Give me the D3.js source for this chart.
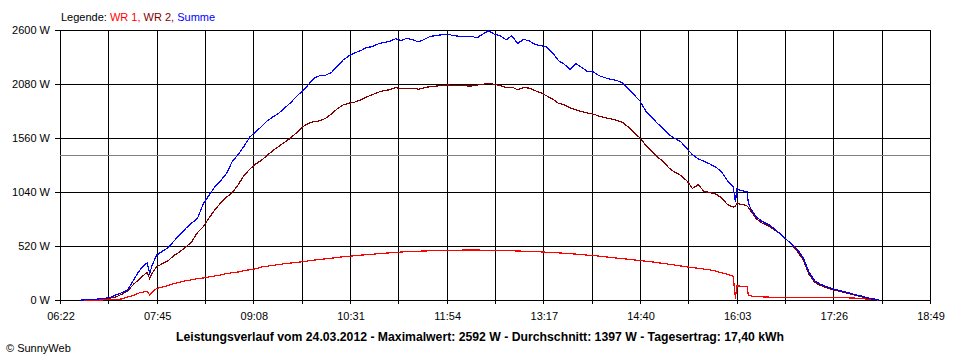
<!DOCTYPE html>
<html><head><meta charset="utf-8">
<script src="https://cdn.jsdelivr.net/npm/d3@7"></script>
<style>
html,body{margin:0;padding:0;background:#fff;}
svg{display:block;}
text{font-family:"Liberation Sans",Arial,sans-serif;}
</style></head>
<body><svg id="c" width="960" height="360"></svg>
<script>
const times = ["06:40","06:45","06:50","06:55","07:00","07:05","07:10","07:15","07:20","07:25","07:30","07:35","07:37","07:39","07:41","07:45","07:50","07:55",
"08:00","08:05","08:10","08:15","08:20","08:25","08:30","08:35","08:40","08:45","08:50","08:55",
"09:00","09:05","09:10","09:15","09:20","09:25","09:30","09:35","09:40","09:45","09:50","09:55",
"10:00","10:05","10:10","10:15","10:20","10:25","10:30","10:35","10:40","10:45","10:50","10:55",
"11:00","11:05","11:10","11:15","11:20","11:25","11:30","11:35","11:40","11:45","11:50","11:55",
"12:00","12:05","12:10","12:15","12:20","12:25","12:30","12:35","12:40","12:45","12:50","12:55",
"13:00","13:05","13:10","13:15","13:20","13:25","13:30","13:35","13:40","13:45","13:50","13:55",
"14:00","14:05","14:10","14:15","14:20","14:25","14:30","14:35","14:40","14:45","14:50","14:55",
"15:00","15:05","15:10","15:15","15:20","15:25","15:30","15:35","15:40","15:45","15:50","15:55",
"16:00","16:02","16:03","16:05","16:10","16:12","16:13","16:15","16:20","16:25","16:30","16:35","16:40","16:45","16:50","16:55",
"17:00","17:05","17:10","17:15","17:20","17:25","17:30","17:35","17:40","17:45","17:50","17:55","18:00","18:05"];

const wr1 = [0,0,0,0,1,3,5,10,28,45,68,80,82,50,75,112,125,140,
158,172,185,195,205,212,222,232,240,255,262,270,
282,292,300,318,326,334,342,350,356,362,368,376,
384,390,396,402,410,416,420,426,432,436,440,446,
450,454,458,462,465,467,470,472,474,476,477,478,
479,480,481,481,481,480,480,479,478,476,474,472,
470,468,466,463,460,457,454,450,446,442,438,432,
428,422,416,410,404,398,392,386,380,374,368,360,
352,344,336,328,320,312,305,298,290,278,262,248,
228,10,135,135,130,125,45,40,32,30,28,27,26,26,25,25,
25,25,24,24,23,23,22,21,20,18,14,8,3,0];

const wr2 = [0,2,5,10,14,18,30,55,85,150,200,250,265,205,255,320,350,380,
430,465,510,560,650,705,790,870,935,990,1035,1110,
1200,1260,1310,1345,1395,1440,1480,1520,1560,1610,1665,1700,
1718,1725,1750,1790,1840,1878,1895,1905,1926,1955,1975,2000,
2015,2025,2045,2035,2040,2038,2030,2045,2055,2060,2065,2070,
2068,2066,2062,2060,2070,2075,2088,2075,2065,2045,2050,2025,
2045,2040,2015,1995,1965,1935,1895,1880,1850,1830,1815,1800,
1790,1770,1755,1745,1730,1710,1665,1610,1560,1490,1430,1375,
1335,1270,1230,1200,1150,1075,1110,1045,1035,1020,985,920,
895,905,930,925,915,905,890,860,780,740,715,680,640,590,535,470,
390,250,170,140,120,100,88,75,60,45,32,18,8,0];

const summe = [0,2,5,10,15,25,50,70,95,190,280,345,355,255,330,433,470,505,
570,630,690,740,785,925,1010,1090,1150,1220,1335,1400,
1480,1570,1620,1670,1725,1765,1800,1850,1900,1960,2010,2070,
2135,2160,2165,2190,2250,2310,2350,2380,2400,2430,2440,2465,
2480,2490,2515,2500,2520,2505,2485,2510,2540,2545,2555,2560,
2545,2540,2535,2540,2525,2560,2592,2560,2545,2505,2545,2470,
2510,2495,2460,2450,2435,2380,2305,2270,2220,2275,2240,2200,
2195,2160,2140,2125,2115,2090,2030,1975,1915,1820,1760,1700,
1650,1590,1555,1525,1460,1400,1360,1335,1310,1280,1235,1150,
1090,940,1070,1060,1045,1040,940,880,800,755,730,690,640,590,540,490,
410,270,185,150,130,110,95,80,68,50,38,22,12,0];

const xTickLabels = ["06:22","07:45","09:08","10:31","11:54","13:17","14:40","16:03","17:26","18:49"];
const yTicks = [0,520,1040,1560,2080,2600];
const average = 1397;
const legendParts = [["Legende: ","#000000"],["WR 1, ","#ff0000"],["WR 2, ","#800000"],["Summe","#0000ff"]];
const titleText = "Leistungsverlauf vom 24.03.2012 - Maximalwert: 2592 W - Durchschnitt: 1397 W - Tagesertrag: 17,40 kWh";
const copyright = "© SunnyWeb";

const toMin = s => { const [h,m] = s.split(":").map(Number); return h*60+m; };

const L = 60, R = 930, T = 30, B = 300;
const svg = d3.select("#c");
const x = d3.scaleLinear().domain([toMin(xTickLabels[0]), toMin(xTickLabels[xTickLabels.length-1])]).range([L, R]);
const y = d3.scaleLinear().domain([0, 2600]).range([B, T]);

const labMin = xTickLabels.map(toMin);
const allTicks = [];
labMin.forEach((m,i) => { allTicks.push(m); if (i < labMin.length-1) allTicks.push((m + labMin[i+1])/2); });

const px = v => Math.round(v) + 0.5;

svg.append("g").selectAll("line").data(allTicks).join("line")
  .attr("x1", d => px(x(d))).attr("x2", d => px(x(d)))
  .attr("y1", T).attr("y2", B + 4)
  .attr("stroke", "#000").attr("shape-rendering","crispEdges");
svg.append("g").selectAll("line").data(yTicks).join("line")
  .attr("x1", L - 5).attr("x2", R + 1)
  .attr("y1", d => px(y(d))).attr("y2", d => px(y(d)))
  .attr("stroke", "#000").attr("shape-rendering","crispEdges");
svg.append("line").attr("x1", L).attr("x2", R)
  .attr("y1", px(y(average))).attr("y2", px(y(average)))
  .attr("stroke", "#808080").attr("shape-rendering","crispEdges");

svg.append("g").selectAll("text").data(yTicks).join("text")
  .attr("x", 50).attr("y", d => y(d) + 4).attr("text-anchor","end")
  .attr("font-size", 11).text(d => d + " W");
svg.append("g").selectAll("text").data(xTickLabels).join("text")
  .attr("x", d => x(toMin(d)) + 1).attr("y", 320).attr("text-anchor","middle")
  .attr("font-size", 11).text(d => d);

const line = d3.line().x((d,i) => x(toMin(times[i]))).y(d => y(d));
[[wr1,"#ff0000"],[wr2,"#800000"],[summe,"#0000ff"]].forEach(([s,c]) => {
  svg.append("path").datum(s).attr("d", line).attr("fill","none")
    .attr("stroke", c).attr("stroke-width", 1.2).attr("shape-rendering","crispEdges");
});

const lg = svg.append("text").attr("x", 61).attr("y", 21).attr("font-size", 11);
legendParts.forEach(([t,c]) => lg.append("tspan").attr("fill", c).text(t));

svg.append("text").attr("x", 480).attr("y", 341).attr("text-anchor","middle")
  .attr("font-size", 12).attr("font-weight","bold")
  .attr("textLength", 608).attr("lengthAdjust","spacingAndGlyphs").text(titleText);
svg.append("text").attr("x", 6).attr("y", 352).attr("font-size", 11).text(copyright);
</script></body></html>
